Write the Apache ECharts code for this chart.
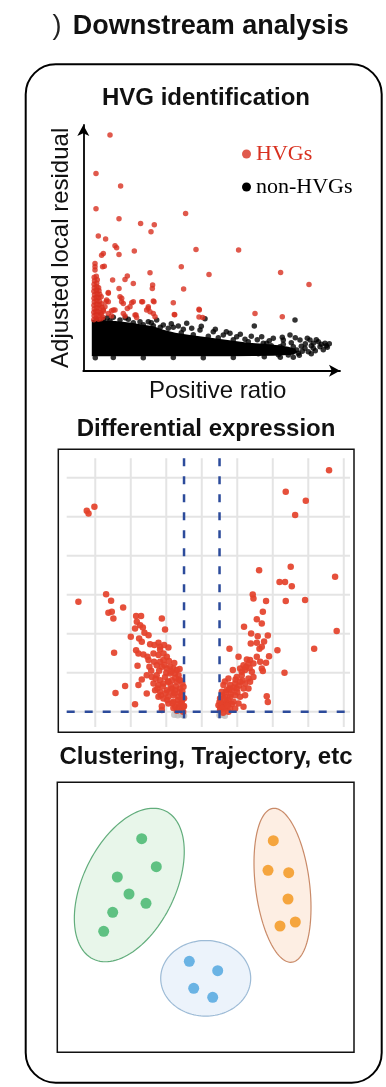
<!DOCTYPE html>
<html><head><meta charset="utf-8">
<script src="https://cdn.jsdelivr.net/npm/echarts@6/dist/echarts.min.js"></script>
<style>html,body{margin:0;padding:0;background:#fff}#c{width:386px;height:1087px}</style>
</head><body><div id="c"></div>
<script>
// ---------- text ----------
const mainTitle = 'Downstream analysis';
const panelTitles = ['HVG identification', 'Differential expression', 'Clustering, Trajectory, etc'];
const hvgAxisNames = ['Positive ratio', 'Adjusted local residual'];
const hvgLegend = ['HVGs', 'non-HVGs'];

// ---------- HVG panel (positive ratio vs adjusted local residual, arbitrary units) ----------
const hvgRed = [
  [26.7,235.7],[12.7,197.3],[37.3,184.7],[12.7,162],[35.7,152],[102.3,157.3],[57.3,147.3],[71,146],[67.7,139],
  [15,134.7],[22.3,131.7],[31.7,125],[33.3,123],[35.7,116.3],[20,117.3],[18.3,115.5],[51,119.7],[112.7,121.3],
  [155.3,120.7],[11.7,107.3],[11.7,104],[11.7,100.7],[19.3,104],[21,104.5],[66.7,98],[98,104],[125.7,96.3],
  [197.3,98.3],[225.7,86.3],[29.3,90.7],[44,94.7],[41.7,91.3],[50,87.3],[69.3,85.7],[69,82.3],[100.3,81.7],
  [35.7,82.3],[25,78.3],[36.7,74],[38.3,69],[40,67.3],[23.3,70.7],[25,69],[50,69],[59.3,69],[70,69.7],[90,68],
  [65,64],[63.3,60.7],[46.7,64],[44,62.3],[31.7,60.7],[28.3,60],[116,60.7],[91,56.3],[119.3,53.3],[171.7,57.3],
  [199,54],[51.7,55.7],[53.3,53.3],[70,57.3],[71.7,54],[40,57.3],[41.7,54.7],[25,57.3],[28.3,54.7],[20,60.7],
  [21.7,64],[25,77.4],[22.7,69],[30,60.7],[38.4,72.4],[48.4,68],[52.7,55.7],[58.4,69],[65,62.4],[66.7,59],
  [70.7,69],[91.4,56],[115.7,61.4],[115.7,53.7],
  [10.5,51],[12.8,52.5],[15.2,51.5],[17.6,52],[19.5,53.5],[10.8,55],[13,56],[15.6,55.5],[18,56.5],
  [10.5,58.5],[12.6,59.5],[15,59],[17.4,58],[20.2,59.5],[11,62],[13.5,63],[16,62.5],[18.6,63.5],
  [10.6,65.5],[13.2,66.5],[15.8,66],[18.2,67],[11,69],[13.6,70],[16.3,69.5],[10.7,72.5],[13,73.5],[15.5,73],
  [17.9,74],[11.2,76],[13.8,77],[16.4,76.5],[10.6,79.5],[13.1,80.5],[15.7,80],[11,83],[13.6,84],[15.3,83],
  [10.8,86.5],[13.4,87.5],[11.2,90],[14,91],[10.9,93.5],[13,94.5]
];
// dense body of the non-HVG cloud (outline) and its loose edge points
const nonHvgCore = [
  [8.5,14.5],[8.5,51],[22,50.5],[35,49.5],[48,48],[60,46],[70,44.5],[80,41],[92,38],[105,36],[120,34],[135,32],
  [150,30],[165,28],[180,27],[195,25.5],[205,24],[212,22],[214,18.5],[210,16],[190,15],[150,14.5],[100,14.5]
];
const nonHvg = [
  [13.4,50.7],[20,51.4],[26.7,50],[30,53.4],[36.7,50.7],[45,51.4],[50,48],[56.7,49],[65,49],[73.4,50.7],[80,45.7],
  [85,42.4],[90,43.4],[95,44.7],[103.4,47.4],[108.4,42.4],[116.7,40.7],[121.7,52],[130,39],[140,35.7],[146.7,37.4],
  [153.4,34],[161.7,31.4],[171,44.7],[178.4,34],[183.4,27.4],[190,32.4],[193.4,20.7],[196.7,24],[200,30.7],
  [203.4,19],[205,15.7],[206.7,35.7],[210,24],[211.7,50.7],[213.4,20.7],[216.7,30.7],[221.7,22.4],[226.7,30.7],
  [230,27.4],[230,22.4],[235,29],[236.7,24],[241.7,27.4],[243,25],[178.4,22.4],[170,20.7],[160,18],[175,17],
  [185,19],[195,16],[215,17.5],[225,19],[240,21],[200,26.5],[188,25],[60,46],[70,45],[77,43.5],[98,38],[110,36],
  [125,34.5],[135,33],[150,31],[165,29],[180,27.5],
  [218,24.5],[222,27],[219,19.5],[228,25],[232,20],[238,26.5],[244,23.5],[246,27],[233,31],[224,32.5],
  [208,28],[212,33],[199,33.5],[186,30],[174,31],[168,34.5],[157,36.5],[143,39],[132,41.5],[118,44.5],
  [100,41.5],[88,47],[68,48],[42,53],[24,53],[216,15.5],[228,17],[210,13.5],[197,13.5],[181,14],
  [12,13],[30,13.2],[60,13],[90,13.3],[120,13],[150,13.2]
];

// ---------- volcano panel (log2 fold change vs -log10 p) ----------
const volcanoDown = [
  [-6.48,12.31],[-6.38,12.17],[-6.05,12.51],[-6.95,7.64],[-5.39,8.03],[-5.11,7.69],[-4.43,7.35],[-5.26,7.08],
  [-5.07,7.13],[-4.98,6.79],[-4.94,5.03],[-4.32,3.32],[-4.86,2.97],[-3.76,2.39],
  [-3.70,6.91],[-3.42,6.91],[-3.66,6.62],[-3.47,6.44],[-3.32,6.32],[-3.76,6.27],[-3.23,6.05],[-3.00,5.93],
  [-4.0,5.85],[-3.53,5.76],[-3.38,5.59],[-2.91,5.47],[-2.44,5.54],[-2.67,5.42],[-2.35,5.33],[-2.12,5.42],
  [-1.88,5.30],[-2.35,5.20],[-3.70,5.16],[-3.57,4.99],[-3.29,4.94],[-3.06,4.82],[-2.72,4.99],[-2.44,4.91],
  [-2.16,4.99],[-1.97,4.82],[-3.0,4.65],[-2.69,4.56],[-2.35,4.56],[-2.16,4.65],[-3.62,4.36],[-2.95,4.31],
  [-2.54,4.39],[-2.25,4.31],[-1.97,4.22],[-1.78,4.31],[-1.60,4.22],[-1.41,4.14],[-3.10,3.88],[-2.82,3.79],
  [-2.54,3.88],[-2.35,3.62],[-2.07,3.79],[-1.78,3.97],[-1.50,3.97],[-1.31,3.88],[-3.38,3.66],[-3.57,3.37],
  [-2.72,3.45],[-2.44,3.37],[-2.16,3.45],[-1.88,3.54],[-1.69,3.62],[-1.41,3.54],[-1.22,3.62],[-3.10,2.94],
  [-2.63,3.11],[-2.35,3.03],[-1.97,3.11],[-1.69,3.20],[-1.50,3.11],[-1.22,3.20],[-1.03,3.28],[-2.44,2.77],
  [-2.16,2.68],[-1.88,2.77],[-1.60,2.85],[-1.31,2.77],[-1.13,2.85],[-2.25,2.29],[-1.88,2.43],[-1.60,2.51],
  [-1.31,2.43],[-1.13,2.51],[-1.03,2.26],[-1.50,2.26],[-1.31,2.17],[-1.13,2.09],[-2.07,6.22],[-2.25,6.79],
  [-1.45,3.3],[-1.25,3.0],[-1.1,2.6],[-1.35,2.6],[-1.55,2.95],[-1.75,3.35],[-1.2,2.35],[-1.4,2.05],[-1.05,2.0],
  [-1.6,2.2],[-1.95,2.6],[-2.05,2.95],[-1.8,3.05],[-1.1,3.45],[-1.3,3.65],[-1.5,3.75],[-1.9,3.55],[-2.0,4.0],
  [-1.7,4.05],[-1.25,4.2],[-1.1,3.05],[-1.0,2.7],[-1.0,2.3],[-1.65,2.45],[-2.3,2.85],[-2.5,3.2],[-2.2,3.3],
  [-2.6,3.7],[-2.85,4.1],[-2.1,4.4],[-1.55,4.5],[-1.85,4.6],[-2.4,4.1],[-2.25,2.09]
];
const volcanoUp = [
  [7.17,14.39],[4.73,13.28],[5.86,12.82],[5.26,12.09],[3.23,9.26],[5.01,9.44],[7.51,8.92],[4.38,8.65],[4.69,8.65],
  [5.07,8.44],[2.87,8.02],[2.91,7.81],[3.62,7.68],[4.73,7.68],[5.82,7.73],[3.44,7.13],[3.10,6.74],[3.38,6.53],
  [2.38,6.36],[7.60,6.14],[1.56,5.23],[4.26,5.16],[6.33,5.23],[4.66,4.0],[3.66,2.80],[3.72,2.50],
  [2.78,6.02],[3.15,5.88],[3.72,5.91],[2.76,5.50],[3.10,5.54],[3.51,5.61],[3.38,5.33],[3.25,5.23],[2.07,4.82],
  [2.54,4.68],[2.72,4.65],[2.63,4.48],[2.35,4.39],[2.91,4.48],[3.29,4.56],[3.62,4.51],[3.79,4.85],[3.10,4.82],
  [1.75,4.14],[2.16,4.22],[2.44,4.14],[2.82,4.05],[3.38,4.22],[3.44,4.09],[1.50,3.71],[1.97,3.79],[2.25,3.88],
  [2.63,3.71],[2.91,3.79],[1.22,3.37],[1.60,3.37],[1.88,3.45],[2.16,3.54],[2.44,3.45],[2.72,3.54],[1.13,3.03],
  [1.41,3.11],[1.69,3.11],[1.97,3.20],[2.35,3.20],[2.63,3.20],[1.03,2.68],[1.31,2.77],[1.60,2.77],[1.88,2.85],
  [2.16,2.77],[2.44,2.85],[0.94,2.34],[1.22,2.43],[1.50,2.43],[1.78,2.51],[2.07,2.43],[2.35,2.26],[1.03,2.09],
  [1.31,2.17],[1.60,2.17],[1.88,2.17],
  [1.1,2.4],[1.2,2.2],[1.4,2.5],[1.15,2.85],[1.35,3.0],[1.5,2.6],[1.25,2.65],[1.7,2.4],[1.55,3.2],[1.05,2.25],
  [1.45,2.3],[1.65,2.9],[1.8,3.25],[2.0,3.0],[1.3,3.55],[1.9,3.65],[2.1,3.35],[1.0,2.5],[1.2,1.95],[1.5,2.0],
  [2.3,3.6],[2.5,4.3],[2.25,4.05],[2.7,4.25]
];
const volcanoNS = [[-1.55,1.85],[-1.35,1.82],[-1.15,1.86],[-1.0,1.8],[1.0,1.82],[1.15,1.86],[1.3,1.8]];
const volcanoGridX = [-6,-4,-2,0,2,4,6,8];
const volcanoGridY = [2,4,6,8,10,12,14];
const foldChangeCut = [-1, 1];
const pValueCut = [2];

// ---------- clustering panel (embedding coordinates) ----------
const clusterGreen = [[84.4,213.6],[99,185.6],[60,175.3],[71.7,158.3],[88.7,149],[55.4,140],[46.4,121]];
const clusterOrange = [[216,211.6],[210.7,182],[231.4,179.6],[230.7,153.3],[238,130.3],[222.7,126.3]];
const clusterBlue = [[132,91],[160.4,81.6],[136.4,64],[155.4,55]];
// cluster extents: [centerX, centerY, semi-axis along tilt, other semi-axis, tilt (deg, clockwise from vertical)]
const clusterEllipses = [[72,167.3,82.4,46.1,26],[225.2,167,77.5,27.1,-7],[148.4,74,37.8,45,0]];

// ---------- chart ----------
const FONT = '"Liberation Sans", Arial, sans-serif';
const red = '#d8301f';
const volRed = '#e4412a';
const ellipseFill = ['#e8f6ea', '#fdeee3', '#ecf3fb'];
const ellipseStroke = ['#62ad7c', '#c98a68', '#9dbbd6'];

const chart = echarts.init(document.getElementById('c'), null, {renderer: 'canvas'});

function lineSeries(values, dir, grid, style, z) {
  return {
    type: 'custom', xAxisIndex: grid, yAxisIndex: grid, silent: true, z: z,
    data: values.map(v => [v]),
    renderItem: function (params, api) {
      const cs = params.coordSys;
      const v = api.value(0);
      let p;
      if (dir === 'x') {
        const x = api.coord([v, 0])[0];
        p = {x1: x, y1: cs.y, x2: x, y2: cs.y + cs.height};
      } else {
        const y = api.coord([0, v])[1];
        p = {x1: cs.x, y1: y, x2: cs.x + cs.width, y2: y};
      }
      return {type: 'line', shape: p, style: style};
    }
  };
}

const hiddenAxis = {axisLine: {show: false}, axisTick: {show: false}, axisLabel: {show: false}, splitLine: {show: false}};

const option = {
  backgroundColor: '#fff',
  animation: false,
  grid: [
    {left: 83.3, top: 125, width: 256.7, height: 245.7},
    {left: 66.7, top: 458.3, width: 283.3, height: 268.7},
    {left: 57.3, top: 782.3, width: 296.7, height: 270, show: true, borderColor: '#111', borderWidth: 1.5, backgroundColor: 'transparent'}
  ],
  xAxis: [
    {gridIndex: 0, type: 'value', min: 0, max: 256.7, name: hvgAxisNames[0], nameLocation: 'middle', nameGap: 9,
     nameTextStyle: {fontFamily: FONT, fontSize: 24, color: '#111', padding: [0, 0, 0, 12]},
     axisLine: {show: true, onZero: false, symbol: ['none', 'arrow'], symbolSize: [9, 11], lineStyle: {color: '#000', width: 1.8}},
     axisTick: {show: false}, axisLabel: {show: false}, splitLine: {show: false}},
    Object.assign({gridIndex: 1, type: 'value', min: -7.61, max: 8.35}, hiddenAxis),
    Object.assign({gridIndex: 2, type: 'value', min: 0, max: 296.7}, hiddenAxis)
  ],
  yAxis: [
    {gridIndex: 0, type: 'value', min: 0, max: 245.7, name: hvgAxisNames[1], nameLocation: 'middle', nameGap: 10, nameRotate: 90,
     nameTextStyle: {fontFamily: FONT, fontSize: 24, color: '#111'},
     axisLine: {show: true, onZero: false, symbol: ['none', 'arrow'], symbolSize: [9, 11], lineStyle: {color: '#000', width: 1.8}},
     axisTick: {show: false}, axisLabel: {show: false}, splitLine: {show: false}},
    Object.assign({gridIndex: 1, type: 'value', min: 1.22, max: 15.0}, hiddenAxis),
    Object.assign({gridIndex: 2, type: 'value', min: 0, max: 270}, hiddenAxis)
  ],
  legend: {
    orient: 'vertical', left: 237, top: 138, itemWidth: 9, itemHeight: 9, itemGap: 11, selectedMode: false,
    textStyle: {fontFamily: '"Liberation Serif", "Times New Roman", serif', fontSize: 22, color: '#000'},
    data: [
      {name: hvgLegend[0], icon: 'circle', itemStyle: {color: red}, textStyle: {color: red}},
      {name: hvgLegend[1], icon: 'circle', itemStyle: {color: '#000'}}
    ]
  },
  graphic: [
    {type: 'rect', shape: {x: 25.7, y: 64.3, width: 356, height: 1018.4, r: 30}, style: {fill: 'none', stroke: '#000', lineWidth: 2}, z: 0},
    {type: 'rect', shape: {x: 58.3, y: 449.3, width: 295.7, height: 283}, style: {fill: 'none', stroke: '#111', lineWidth: 1.5}, z: 10},
    {type: 'text', x: 57, y: 27, style: {text: ')', font: '27px ' + FONT, fill: '#222', textAlign: 'center', textVerticalAlign: 'middle'}},
    {type: 'text', x: 72.7, y: 27, style: {text: mainTitle, font: 'bold 27px ' + FONT, fill: '#111', textAlign: 'left', textVerticalAlign: 'middle'}},
    {type: 'text', x: 206, y: 98.7, style: {text: panelTitles[0], font: 'bold 24px ' + FONT, fill: '#111', textAlign: 'center', textVerticalAlign: 'middle'}},
    {type: 'text', x: 206, y: 429.5, style: {text: panelTitles[1], font: 'bold 24px ' + FONT, fill: '#111', textAlign: 'center', textVerticalAlign: 'middle'}},
    {type: 'text', x: 206, y: 757.2, style: {text: panelTitles[2], font: 'bold 24px ' + FONT, fill: '#111', textAlign: 'center', textVerticalAlign: 'middle'}}
  ],
  series: [
    // HVG panel
    {type: 'custom', name: hvgLegend[1], xAxisIndex: 0, yAxisIndex: 0, silent: true, z: 2, data: [[0]],
     itemStyle: {color: '#000'},
     renderItem: function (params, api) {
       return {type: 'polygon', shape: {points: nonHvgCore.map(d => api.coord(d))}, style: {fill: '#000'}};
     }},
    {type: 'scatter', name: hvgLegend[1], xAxisIndex: 0, yAxisIndex: 0, data: nonHvg, symbolSize: 5.5, itemStyle: {color: '#000'}, z: 3},
    {type: 'scatter', name: hvgLegend[0], xAxisIndex: 0, yAxisIndex: 0, data: hvgRed, symbolSize: 5.5, itemStyle: {color: red}, z: 4},
    // Volcano panel
    lineSeries(volcanoGridX, 'x', 1, {stroke: '#e4e4e4', lineWidth: 2}, 1),
    lineSeries(volcanoGridY, 'y', 1, {stroke: '#e4e4e4', lineWidth: 2}, 1),
    {type: 'scatter', xAxisIndex: 1, yAxisIndex: 1, data: volcanoNS, symbolSize: 6.5, itemStyle: {color: '#bdbdbd'}, z: 2},
    {type: 'scatter', xAxisIndex: 1, yAxisIndex: 1, data: volcanoDown, symbolSize: 6.5, itemStyle: {color: volRed, opacity: 0.92}, z: 3},
    {type: 'scatter', xAxisIndex: 1, yAxisIndex: 1, data: volcanoUp, symbolSize: 6.5, itemStyle: {color: volRed, opacity: 0.92}, z: 3},
    lineSeries(foldChangeCut, 'x', 1, {stroke: '#2c4b9b', lineWidth: 2.5, lineDash: [8, 10]}, 5),
    lineSeries(pValueCut, 'y', 1, {stroke: '#2c4b9b', lineWidth: 2.5, lineDash: [8, 10]}, 5),
    // Clustering panel
    {type: 'custom', xAxisIndex: 2, yAxisIndex: 2, silent: true, z: 1, data: clusterEllipses,
     renderItem: function (params, api) {
       const c = api.coord([api.value(0), api.value(1)]);
       const s = api.size([1, 1]);
       const a = api.value(2), b = api.value(3), t = api.value(4) * Math.PI / 180;
       const pts = [];
       for (let k = 0; k < 120; k++) {
         const u = k / 120 * 2 * Math.PI;
         const ma = a * Math.cos(u), mi = b * Math.sin(u);
         pts.push([c[0] + (ma * Math.sin(t) + mi * Math.cos(t)) * s[0], c[1] + (-ma * Math.cos(t) + mi * Math.sin(t)) * s[1]]);
       }
       return {type: 'polygon', shape: {points: pts}, style: {fill: ellipseFill[params.dataIndex], stroke: ellipseStroke[params.dataIndex], lineWidth: 1.2}};
     }},
    {type: 'scatter', xAxisIndex: 2, yAxisIndex: 2, data: clusterGreen, symbolSize: 11, itemStyle: {color: '#3cb468'}, z: 3},
    {type: 'scatter', xAxisIndex: 2, yAxisIndex: 2, data: clusterOrange, symbolSize: 11, itemStyle: {color: '#f29214'}, z: 3},
    {type: 'scatter', xAxisIndex: 2, yAxisIndex: 2, data: clusterBlue, symbolSize: 11, itemStyle: {color: '#4aa3de'}, z: 3}
  ]
};
chart.setOption(option);
</script>
</body></html>
